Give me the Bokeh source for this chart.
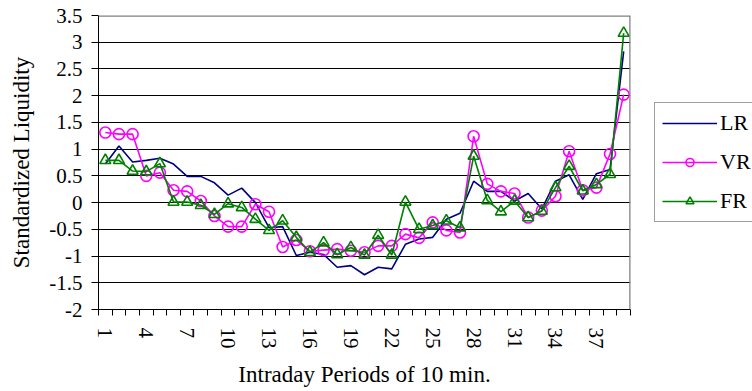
from bokeh.plotting import figure
from bokeh.models import (Range1d, FixedTicker, Span, Legend, LegendItem, ColumnDataSource)
from bokeh.layouts import row
from bokeh.embed import file_html
from bokeh.resources import INLINE

periods = list(range(1, 40))
lr = [0.72, 1.06, 0.76, 0.79, 0.83, 0.72, 0.49, 0.49, 0.37, 0.14,
      0.27, 0.00, -0.47, -0.45, -0.99, -0.93, -0.97, -1.21, -1.18, -1.35,
      -1.21, -1.24, -0.78, -0.68, -0.65, -0.31, -0.20, 0.40, 0.21, 0.21,
      0.03, 0.17, -0.12, 0.40, 0.52, 0.06, 0.54, 0.62, 2.83]
vr = [1.31, 1.28, 1.28, 0.50, 0.56, 0.23, 0.21, 0.03, -0.25, -0.45,
      -0.45, -0.03, -0.17, -0.83, -0.70, -0.91, -0.89, -0.87, -0.90, -0.93,
      -0.81, -0.81, -0.59, -0.66, -0.37, -0.52, -0.56, 1.24, 0.35, 0.21,
      0.17, -0.28, -0.15, 0.12, 0.96, 0.23, 0.28, 0.91, 2.02]
fr = [0.79, 0.79, 0.59, 0.58, 0.73, 0.01, 0.01, -0.05, -0.22, -0.02,
      -0.09, -0.31, -0.52, -0.34, -0.65, -0.93, -0.75, -0.97, -0.84, -0.98,
      -0.61, -0.98, 0.01, -0.50, -0.43, -0.34, -0.47, 0.87, 0.04, -0.17,
      0.03, -0.28, -0.16, 0.28, 0.68, 0.22, 0.34, 0.53, 3.17]
series_names = ["LR", "VR", "FR"]
x_tick_labels = [1, 4, 7, 10, 13, 16, 19, 22, 25, 28, 31, 34, 37]
y_ticks = [-2, -1.5, -1, -0.5, 0, 0.5, 1, 1.5, 2, 2.5, 3, 3.5]
y_tick_labels = ["-2", "-1.5", "-1", "-0.5", "0", "0.5", "1", "1.5", "2", "2.5", "3", "3.5"]

FONT = "Liberation Serif"
C_LR, C_VR, C_FR = "#000080", "#FF00FF", "#008000"

# ---------------- main plot ----------------
p = figure(width=632, height=391, output_backend="svg", toolbar_location=None,
           x_range=Range1d(0.5, 39.5), y_range=Range1d(-2, 3.5),
           min_border_left=98, min_border_right=2, min_border_top=15,
           min_border_bottom=82)
p.outline_line_color = None
p.background_fill_color = "white"
p.border_fill_color = "white"

xa = p.xaxis[0]
xa.ticker = FixedTicker(ticks=x_tick_labels,
                        minor_ticks=[i + 0.5 for i in range(0, 40)])
xa.major_tick_out = 0
xa.major_tick_in = 0
xa.minor_tick_out = 6
xa.minor_tick_in = 0
xa.minor_tick_line_color = "black"
xa.axis_line_color = "black"
xa.major_label_orientation = "vertical"
xa.major_label_standoff = 12
xa.major_label_text_font = FONT
xa.major_label_text_font_size = "21px"
xa.major_label_text_color = "black"
xa.axis_label = "Intraday Periods of 10 min."
xa.axis_label_text_font = FONT
xa.axis_label_text_font_size = "23px"
xa.axis_label_text_font_style = "normal"
xa.axis_label_text_color = "black"
xa.axis_label_standoff = 10

ya = p.yaxis[0]
ya.ticker = FixedTicker(ticks=y_ticks)
ya.major_label_overrides = {t: s for t, s in zip(y_ticks, y_tick_labels)}
ya.major_tick_out = 7
ya.major_tick_in = 0
ya.minor_tick_out = 0
ya.minor_tick_in = 0
ya.major_tick_line_color = "black"
ya.axis_line_color = "black"
ya.major_label_standoff = 9
ya.major_label_text_font = FONT
ya.major_label_text_font_size = "21px"
ya.major_label_text_color = "black"
ya.axis_label = "Standardized Liquidity"
ya.axis_label_text_font = FONT
ya.axis_label_text_font_size = "23px"
ya.axis_label_text_font_style = "normal"
ya.axis_label_text_color = "black"
ya.axis_label_standoff = 12

p.xgrid.visible = False
p.ygrid[0].ticker = FixedTicker(ticks=y_ticks[1:-1])
p.ygrid[0].grid_line_color = "black"
p.ygrid[0].grid_line_width = 1.2

p.add_layout(Span(location=3.5, dimension="width", line_color="#808080", line_width=2.5))
p.add_layout(Span(location=39.5, dimension="height", line_color="#808080", line_width=2.5))

src = ColumnDataSource(dict(x=periods, lr=lr, vr=vr, fr=fr))

p.line("x", "lr", source=src, line_color=C_LR, line_width=1.6)
p.line("x", "vr", source=src, line_color=C_VR, line_width=1.6)
p.scatter("x", "vr", source=src, marker="circle", size=11,
          line_color=C_VR, line_width=1.6, fill_color=None)
p.line("x", "fr", source=src, line_color=C_FR, line_width=1.6)
p.scatter("x", "fr", source=src, marker="triangle", size=11,
          line_color=C_FR, line_width=1.6, fill_color=None)

# ---------------- legend panel ----------------
q = figure(width=120, height=391, output_backend="svg", toolbar_location=None,
           x_range=Range1d(100, 101), y_range=Range1d(100, 101),
           x_axis_location=None, y_axis_location=None,
           min_border_left=0, min_border_right=0, min_border_top=0, min_border_bottom=0)
q.outline_line_color = None
q.xgrid.visible = False
q.ygrid.visible = False
q.background_fill_color = "white"
q.border_fill_color = "white"
l_lr = q.line(periods, lr, line_color=C_LR, line_width=1.6)
l_vr = q.line(periods, vr, line_color=C_VR, line_width=1.6)
l_vr_m = q.scatter(periods, vr, marker="circle", size=8,
                   line_color=C_VR, line_width=1.6, fill_color=None)
l_fr = q.line(periods, fr, line_color=C_FR, line_width=1.6)
l_fr_m = q.scatter(periods, fr, marker="triangle", size=8,
                   line_color=C_FR, line_width=1.6, fill_color=None)

legend = Legend(items=[LegendItem(label=series_names[0], renderers=[l_lr]),
                       LegendItem(label=series_names[1], renderers=[l_vr, l_vr_m]),
                       LegendItem(label=series_names[2], renderers=[l_fr, l_fr_m])],
                location=(22, 87))
legend.glyph_width = 55
legend.glyph_height = 20
legend.label_height = 20
legend.label_standoff = 3
legend.spacing = 13
legend.padding = 7
legend.margin = 0
legend.border_line_color = "#404040"
legend.border_line_width = 1.5
legend.background_fill_color = "white"
legend.background_fill_alpha = 1
legend.label_text_font = FONT
legend.label_text_font_size = "22px"
legend.label_text_color = "black"
legend.label_text_baseline = "middle"
q.add_layout(legend, "center")

layout = row(p, q)
open("out.html", "w").write(file_html(layout, INLINE))
